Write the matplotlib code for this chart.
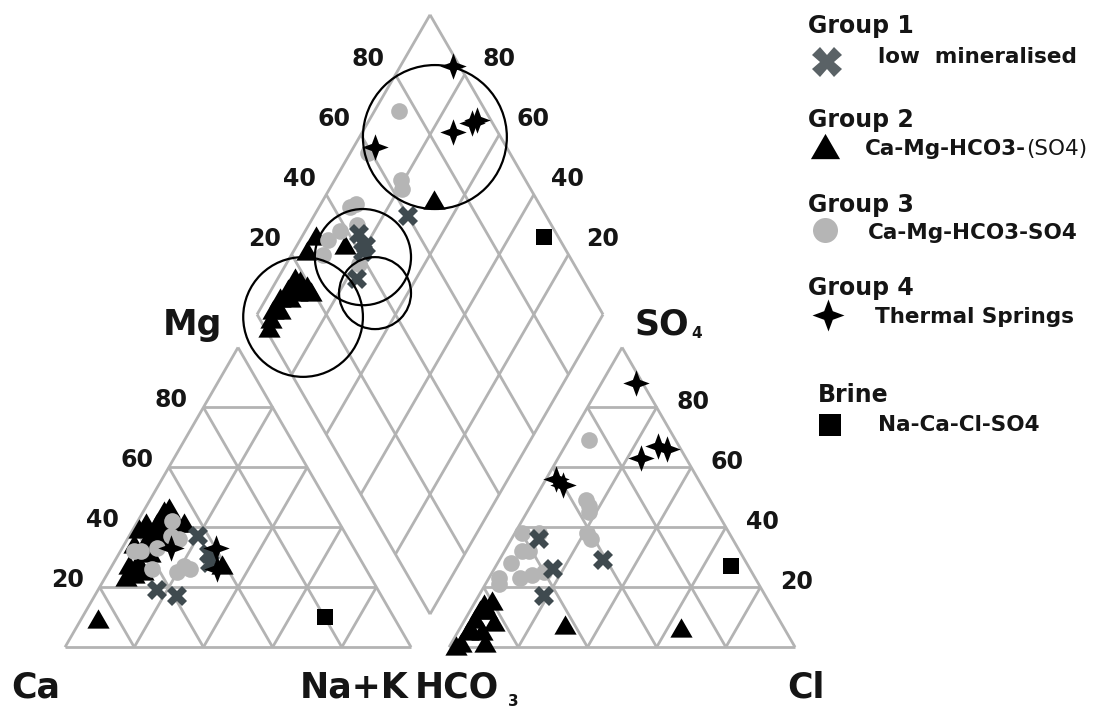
import numpy as np
import matplotlib.pyplot as plt
from matplotlib.path import Path
from matplotlib.patches import Circle

# ---- cation triangle (% meq), Ca = 100 - Mg - Na+K
g1_cat_mg = [37, 31, 28, 19, 17]
g1_cat_nak = [20, 26, 28, 17, 24]
g2_cat_mg = [45, 46, 41, 39, 36, 41, 38, 23, 27, 25, 28, 27, 9, 34, 39, 31, 36,
             44, 41, 41, 34, 24]
g2_cat_nak = [6, 7, 14, 2, 6, 6, 6, 6, 5, 10, 7, 32, 5, 8, 9, 9, 10,
              7, 12, 3, 3, 8]
g3_cat_mg = [32, 33, 42, 37, 36, 26, 27, 26, 25, 32]
g3_cat_nak = [4, 10, 10, 12, 15, 12, 21, 23, 20, 6]
g4_cat_mg = [33, 33, 26]
g4_cat_nak = [14, 27, 31]
brine_cat_mg = [10]
brine_cat_nak = [70]

# ---- anion triangle (% meq), HCO3 = 100 - SO4 - Cl
g1_an_so4 = [36, 26, 17, 29]
g1_an_cl = [8, 17, 19, 30]
g2_an_so4 = [7, 6, 14, 9, 12, 8, 5, 5, 1, 1, 0, 6, 12, 15]
g2_an_cl = [30, 64, 3, 3, 5, 9, 3, 7, 3, 10, 2, 3, 3, 5]
g3_an_so4 = [69, 49, 47, 45, 38, 36, 38, 38, 32, 32, 28, 23, 21, 23, 24, 25]
g3_an_cl = [6, 15, 17, 18, 21, 23, 2, 7, 5, 7, 4, 3, 4, 9, 12, 15]
g4_an_so4 = [88, 63, 67, 66, 56, 54]
g4_an_cl = [10, 24, 27, 30, 3, 6]
brine_an_so4 = [27]
brine_an_cl = [68]

# ---- diamond: Ca+Mg and SO4+Cl (%)
g1_dia_camg = [73, 84, 80, 80, 77]
g1_dia_so4cl = [60, 43, 43, 41, 35]
g2_dia_camg = [68, 86, 96, 96, 95, 90, 88, 95, 96, 96, 95, 94, 93, 93, 92, 94]
g2_dia_so4cl = [70, 37, 30, 25, 17, 19, 19, 13, 9, 5, 3, 1, 18, 12, 15, 7]
g3_dia_camg = [93, 95, 81, 79, 91, 86, 90, 92, 91, 79, 90]
g3_dia_so4cl = [75, 59, 64, 63, 45, 44, 38, 33, 29, 38, 47]
g4_dia_camg = [85, 74, 70, 69, 94]
g4_dia_so4cl = [98, 87, 94, 96, 62]
brine_dia_camg = [30]
brine_dia_so4cl = [96]

ticks = [20, 40, 60, 80]

GAP = 0.11
H = np.sqrt(3) / 2
GRID = '#b3b3b3'
CROSS = '#3f4a4f'
GREY = '#b5b5b5'
INK = '#151515'


def cation_xy(mg, nak):
    mg = np.asarray(mg) / 100.0
    nak = np.asarray(nak) / 100.0
    return nak + mg / 2, mg * H


def anion_xy(so4, cl):
    so4 = np.asarray(so4) / 100.0
    cl = np.asarray(cl) / 100.0
    return 1 + GAP + cl + so4 / 2, so4 * H


def diamond_xy(camg, so4cl):
    c = np.asarray(camg) / 100.0
    a = np.asarray(so4cl) / 100.0
    return 1 + GAP / 2 + (a - c) / 2, GAP * H + (a + c) * H


fig = plt.figure(figsize=(11.04, 7.07), dpi=100)
ax = fig.add_axes([0, 0, 1, 1])
ax.set_xlim(-0.188, 3.003)
ax.set_ylim(-0.173, 1.870)
ax.axis('off')

lkw = dict(color=GRID, lw=2.0, zorder=1, solid_capstyle='butt')


def seg(p, q):
    ax.plot([p[0], q[0]], [p[1], q[1]], **lkw)


# triangles
for x0 in (0.0, 1 + GAP):
    seg((x0, 0), (x0 + 1, 0))
    seg((x0, 0), (x0 + 0.5, H))
    seg((x0 + 1, 0), (x0 + 0.5, H))
    for t in ticks:
        k = t / 100.0
        seg((x0 + k / 2, k * H), (x0 + 1 - k / 2, k * H))
        seg((x0 + k, 0), (x0 + k + (1 - k) / 2, (1 - k) * H))
        seg((x0 + 1 - k, 0), (x0 + (1 - k) / 2, (1 - k) * H))

# diamond
for k in [0] + ticks + [100]:
    seg(diamond_xy(k, 0), diamond_xy(k, 100))
    seg(diamond_xy(0, k), diamond_xy(100, k))

# tick labels
tkw = dict(textcoords='offset points', ha='center', va='center',
           fontsize=17, fontweight='bold', color=INK)
for t in ticks:
    ax.annotate(str(t), cation_xy(t, 0), xytext=(-23, 5), **tkw)
    ax.annotate(str(t), anion_xy(t, 100 - t), xytext=(26, 3.6), **tkw)
    ax.annotate(str(t), diamond_xy(100, t), xytext=(-19.5, 11.5), **tkw)
    ax.annotate(str(t), diamond_xy(t, 100), xytext=(24.5, 11.5), **tkw)

# vertex labels
vkw = dict(fontsize=25, fontweight='bold', color=INK, va='center')
ax.text(-0.084, -0.118, 'Ca', ha='center', **vkw)
ax.text(0.835, -0.118, 'Na+K', ha='center', **vkw)
t_hco = ax.text(1.012, -0.118, 'HCO', ha='left', **vkw)
ax.annotate('3', xy=(1, 0), xycoords=t_hco, xytext=(6, -3), textcoords='offset points',
            fontsize=11, fontweight='bold', color=INK, ha='left', va='bottom')
ax.text(2.142, -0.118, 'Cl', ha='center', **vkw)
ax.text(0.367, 0.931, 'Mg', ha='center', **vkw)
t_so = ax.text(1.647, 0.931, 'SO', ha='left', **vkw)
ax.annotate('4', xy=(1, 0), xycoords=t_so, xytext=(1, 1), textcoords='offset points',
            fontsize=11, fontweight='bold', color=INK, ha='left', va='bottom')

# marker shapes
star = Path([(0, 1), (0.27, 0.27), (1, 0), (0.27, -0.27), (0, -1), (-0.27, -0.27),
             (-1, 0), (-0.27, 0.27), (0, 1)],
            [Path.MOVETO] + [Path.LINETO] * 7 + [Path.CLOSEPOLY])
tri = Path([(-1, -0.732), (1, -0.732), (0, 1), (-1, -0.732)],
           [Path.MOVETO, Path.LINETO, Path.LINETO, Path.CLOSEPOLY])

styles = {
    'g2': dict(marker=tri, color='black', ms=16),
    'g3': dict(marker='o', color=GREY, ms=12),
    'g1': dict(marker='X', color=CROSS, ms=15),
    'g4': dict(marker=star, color='black', ms=19),
    'brine': dict(marker='s', color='black', ms=11.5),
}


def pts(xy, st, z):
    ax.plot(xy[0], xy[1], ls='none', mew=0, zorder=z, **styles[st])


pts(cation_xy(g2_cat_mg, g2_cat_nak), 'g2', 3)
pts(cation_xy(g3_cat_mg, g3_cat_nak), 'g3', 4)
pts(cation_xy(g1_cat_mg, g1_cat_nak), 'g1', 5)
pts(cation_xy(g4_cat_mg, g4_cat_nak), 'g4', 6)
pts(cation_xy(brine_cat_mg, brine_cat_nak), 'brine', 6)

pts(anion_xy(g2_an_so4, g2_an_cl), 'g2', 3)
pts(anion_xy(g3_an_so4, g3_an_cl), 'g3', 4)
pts(anion_xy(g1_an_so4, g1_an_cl), 'g1', 5)
pts(anion_xy(g4_an_so4, g4_an_cl), 'g4', 6)
pts(anion_xy(brine_an_so4, brine_an_cl), 'brine', 6)

pts(diamond_xy(g2_dia_camg, g2_dia_so4cl), 'g2', 3)
pts(diamond_xy(g3_dia_camg, g3_dia_so4cl), 'g3', 4)
pts(diamond_xy(g1_dia_camg, g1_dia_so4cl), 'g1', 5)
pts(diamond_xy(g4_dia_camg, g4_dia_so4cl), 'g4', 6)
pts(diamond_xy(brine_dia_camg, brine_dia_so4cl), 'brine', 6)

# circled clusters in the diamond
for cx, cy, r in [(1.069, 1.474, 0.208), (0.861, 1.127, 0.139),
                  (0.896, 1.023, 0.104), (0.688, 0.954, 0.173)]:
    ax.add_patch(Circle((cx, cy), r, fill=False, ec='black', lw=1.6, zorder=10))

# legend
tr = ax.transAxes
hkw = dict(transform=tr, fontsize=17, fontweight='bold', color=INK, va='baseline')
ikw = dict(transform=tr, fontsize=15.5, fontweight='bold', color=INK, va='baseline')

ax.text(0.732, 0.953, 'Group 1', **hkw)
ax.plot([0.749], [0.912], transform=tr, ls='none', marker='X', color='#5a6266',
        ms=21, mew=0, clip_on=False)
ax.text(0.795, 0.911, 'low  mineralised', **ikw)

ax.text(0.732, 0.820, 'Group 2', **hkw)
ax.plot([0.747], [0.791], transform=tr, ls='none', marker=tri, color='black',
        ms=21, mew=0, clip_on=False)
t_g2 = ax.text(0.7835, 0.781, 'Ca-Mg-HCO3-', **ikw)
ax.annotate('(SO4)', xy=(1, 0), xycoords=t_g2, fontsize=15.5, color=INK,
            ha='left', va='bottom')

ax.text(0.732, 0.700, 'Group 3', **hkw)
ax.plot([0.747], [0.675], transform=tr, ls='none', marker='o', color=GREY,
        ms=18, mew=0, clip_on=False)
ax.text(0.786, 0.662, 'Ca-Mg-HCO3-SO4', **ikw)

ax.text(0.732, 0.583, 'Group 4', **hkw)
ax.plot([0.750], [0.555], transform=tr, ls='none', marker=star, color='black',
        ms=23, mew=0, clip_on=False)
ax.text(0.7926, 0.543, 'Thermal Springs', **ikw)

ax.text(0.741, 0.431, 'Brine', **hkw)
ax.plot([0.752], [0.399], transform=tr, ls='none', marker='s', color='black',
        ms=16, mew=0, clip_on=False)
ax.text(0.795, 0.390, 'Na-Ca-Cl-SO4', **ikw)

fig.savefig('out.png', dpi=100)
